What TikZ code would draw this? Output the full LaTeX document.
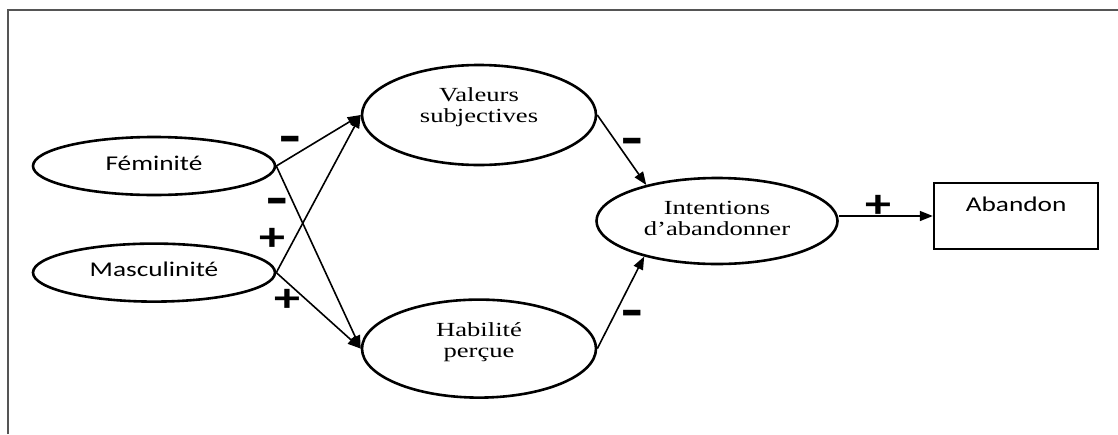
\documentclass[tikz,border=0pt]{standalone}
\usepackage{fontspec}
\setmainfont{Liberation Serif}[FakeStretch=1.33]
\newfontfamily\calibfont{Carlito}[FakeStretch=1.3]
\usetikzlibrary{positioning, arrows.meta, shapes.geometric}
\definecolor{framegray}{RGB}{85,85,85}

\begin{document}
\begin{tikzpicture}[
    x=1pt, y=-1pt,
    construct/.style={
        ellipse,
        draw,
        line width=2.6pt,
        inner sep=0pt,
        align=center
    },
    constructsans/.style={
        construct,
        minimum width=242pt,
        minimum height=58pt,
        text depth=6pt,
        font=\calibfont\fontsize{21}{24}\selectfont
    },
    constructserif/.style={
        construct,
        font=\fontsize{20}{21}\selectfont
    },
    outcome/.style={
        rectangle,
        draw,
        line width=2.6pt,
        minimum width=164pt,
        minimum height=66pt,
        inner sep=0pt,
        text depth=24pt,
        font=\calibfont\fontsize{21}{24}\selectfont
    },
    arrow/.style={
        -{Triangle[length=13pt, width=10pt]},
        line width=1.6pt
    },
    sign/.style={
        inner sep=0pt,
        font=\calibfont\bfseries\fontsize{40}{40}\selectfont
    },
    signminus/.style={
        sign,
        font=\calibfont\bfseries\fontsize{54}{54}\selectfont
    }
]
\useasboundingbox (0,0) rectangle (1118,434);

% Frame
\draw[framegray, line width=2pt] (8,434) -- (8,10) -- (1118,10);

% Nodes
\node[constructsans] (fem) at (154,166) {Féminité};
\node[constructsans, below=46pt of fem] (masc) {Masculinité};
\node[constructserif, minimum width=234pt, minimum height=100pt, text depth=20pt] (val) at (479,115) {Valeurs\\subjectives};
\node[constructserif, minimum width=234pt, minimum height=98pt, text depth=18pt, below=132pt of val] (hab) {Habilité\\perçue};
\node[constructserif, minimum width=241pt, minimum height=86pt, text depth=6pt] (int) at (717,221) {Intentions\\d’abandonner};
\node[outcome, right=94pt of int, yshift=5pt] (aband) {Abandon};

% Paths
\draw[arrow] (fem.east) -- (val.west);
\draw[arrow] (fem.east) -- (hab.west);
\draw[arrow] (masc.east) -- (val.west);
\draw[arrow] (masc.east) -- (hab.west);
\draw[arrow] (val.east) -- (int.153);
\draw[arrow] (hab.east) -- (int.206);
\draw[arrow] (int.east |- aband.west) -- (aband.west);

% Signs
\node[signminus] (sgnfv) at (290,145) {-};
\node[signminus] (sgnfh) at (277,207) {-};
\node[sign] (sgnmv) at (272,239) {+};
\node[sign] (sgnmh) at (287,300) {+};
\node[signminus] (sgnvi) at (632,147) {-};
\node[signminus] (sgnhi) at (632,319) {-};
\node[sign] (sgnia) at (878,206) {+};

\end{tikzpicture}
\end{document}
